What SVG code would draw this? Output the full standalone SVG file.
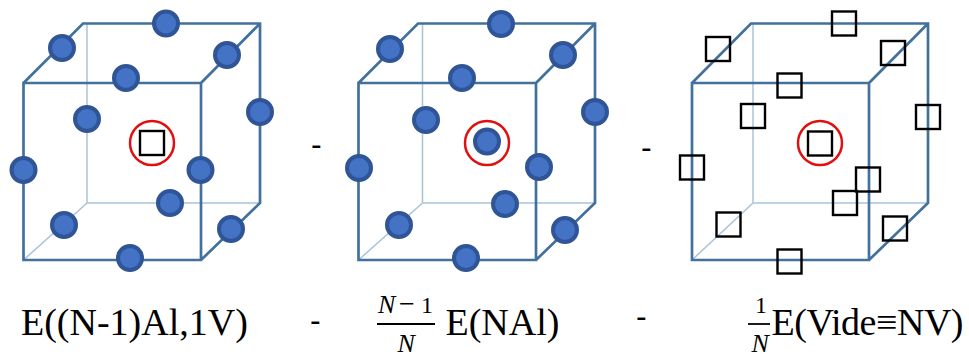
<svg xmlns="http://www.w3.org/2000/svg" width="969" height="358" viewBox="0 0 969 358">
<defs>
<style>
.edge{fill:none;stroke:#41719c;stroke-width:2.700}
.hid{fill:none;stroke:#a9c3d8;stroke-width:1.500}
.atom{fill:#4472c4;stroke:#2f5597;stroke-width:4}
.vac{fill:none;stroke:#000;stroke-width:2.400}
.ring{fill:none;stroke:#e01010;stroke-width:2.500}
text{font-family:"Liberation Serif","Times New Roman",serif;fill:#000}
.it{font-style:italic;font-size:26px}
.op{font-family:"Liberation Sans",Arial,sans-serif;font-size:32px}
.big{font-size:38px}
.f{stroke:#000;stroke-width:1.800}
</style>
</defs>
<rect width="969" height="358" fill="#fff"/>
<g id="connectors">
<g id="cube1-edges">
<path class="hid" d="M87 24V203H260M87 203L23.500 260"/>
<path class="edge" d="M23.500 83H201V260H23.500ZM23.500 83L83 23.500H260V203L201 260M201 83L260 23.500"/>
</g>
<g id="cube2-edges">
<path class="hid" d="M422.500 24V203H595M422.500 203L358.500 260"/>
<path class="edge" d="M358.500 83H536V260H358.500ZM358.500 83L418 23.500H595V203L536 260M536 83L595 23.500"/>
</g>
<g id="cube3-edges">
<path class="hid" d="M753 24V203H928M753 203L692 260"/>
<path class="edge" d="M692 83H869V260H692ZM692 83L751 23.500H928V203L869 260M869 83L928 23.500"/>
</g>
</g>
<g id="cube1-atoms">
<circle class="atom" cx="166" cy="23.500" r="12"/><circle class="atom" cx="62" cy="48" r="12"/><circle class="atom" cx="227" cy="55" r="12"/><circle class="atom" cx="126" cy="78" r="12"/><circle class="atom" cx="87" cy="119" r="12"/><circle class="atom" cx="260" cy="112" r="12"/><circle class="atom" cx="23.500" cy="170" r="12"/><circle class="atom" cx="200.500" cy="170" r="12"/><circle class="atom" cx="170" cy="203" r="12"/><circle class="atom" cx="64" cy="225" r="12"/><circle class="atom" cx="231" cy="229" r="12"/><circle class="atom" cx="130" cy="258" r="12"/>
</g>
<g id="cube1-center">
<circle class="ring" cx="152" cy="143" r="22"/>
<rect class="vac" x="140" y="131" width="24" height="24"/>
</g>
<g id="cube2-atoms">
<circle class="atom" cx="501" cy="24" r="12"/><circle class="atom" cx="390" cy="49" r="12"/><circle class="atom" cx="563" cy="55" r="12"/><circle class="atom" cx="462" cy="78" r="12"/><circle class="atom" cx="426" cy="120" r="12"/><circle class="atom" cx="595" cy="112" r="12"/><circle class="atom" cx="359" cy="168" r="12"/><circle class="atom" cx="539" cy="167" r="12"/><circle class="atom" cx="505" cy="204" r="12"/><circle class="atom" cx="399" cy="225" r="12"/><circle class="atom" cx="565" cy="230" r="12"/><circle class="atom" cx="466" cy="258" r="12"/>
</g>
<g id="cube2-center">
<circle class="ring" cx="487" cy="143" r="22"/>
<circle class="atom" cx="487" cy="141.500" r="12"/>
</g>
<g id="cube3-vacancies">
<rect class="vac" x="832" y="11.500" width="24" height="24"/><rect class="vac" x="706" y="37" width="24" height="24"/><rect class="vac" x="881" y="41" width="24" height="24"/><rect class="vac" x="777.500" y="73.500" width="24" height="24"/><rect class="vac" x="741" y="104" width="24" height="24"/><rect class="vac" x="916" y="105" width="24" height="24"/><rect class="vac" x="680" y="155.500" width="24" height="24"/><rect class="vac" x="856" y="167.500" width="24" height="24"/><rect class="vac" x="833" y="191" width="24" height="24"/><rect class="vac" x="716.500" y="212.500" width="24" height="24"/><rect class="vac" x="883" y="216.500" width="24" height="24"/><rect class="vac" x="777.500" y="249.500" width="24" height="24"/>
</g>
<g id="cube3-center">
<circle class="ring" cx="820" cy="143" r="22"/>
<rect class="vac" x="808" y="131.500" width="24" height="24"/>
</g>
<g id="operators">
<text x="311" y="155" class="op">-</text>
<text x="641" y="158" class="op">-</text>
</g>
<g id="label1">
<text x="21" y="335" class="big">E((N-1)Al,1V)</text>
</g>
<g id="label2">
<text x="310" y="331" class="op">-</text>
<text x="378" y="313" class="it">N</text>
<text x="399" y="313" font-size="28">−</text>
<text x="421" y="313" font-size="24">1</text>
<line class="f" x1="377" y1="324" x2="435" y2="324"/>
<text x="397.500" y="352" class="it">N</text>
<text x="445.500" y="335" class="big">E(NAl)</text>
</g>
<g id="label3">
<text x="636" y="327" class="op">-</text>
<text x="755" y="313" font-size="24">1</text>
<line class="f" x1="748" y1="324" x2="770" y2="324"/>
<text x="751.500" y="352" class="it">N</text>
<text x="771.500" y="335" class="big" textLength="192">E(Vide≡NV)</text>
</g>
</svg>
